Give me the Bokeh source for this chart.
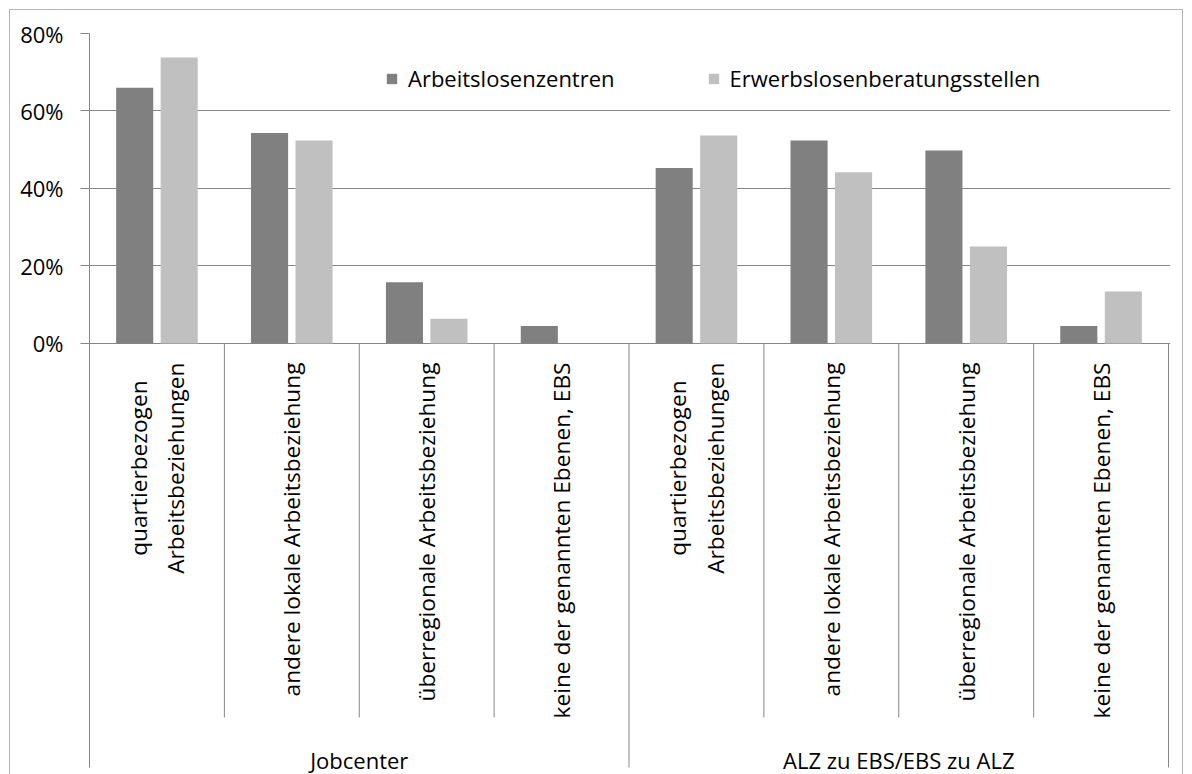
import numpy as np
from bokeh.plotting import figure
from bokeh.models import Range1d, FixedTicker, PrintfTickFormatter, Legend, LegendItem
from bokeh.core.properties import value
from bokeh.embed import file_html
from bokeh.resources import INLINE

# ---------------- data ----------------
groups = ["Jobcenter", "ALZ zu EBS/EBS zu ALZ"]
subcats = ["quartierbezogen\nArbeitsbeziehungen",
           "andere lokale Arbeitsbeziehung",
           "überregionale Arbeitsbeziehung",
           "keine der genannten Ebenen, EBS"]
series_names = ["Arbeitslosenzentren", "Erwerbslosenberatungsstellen"]
alz_values = [66.0, 54.3, 15.8, 4.5, 45.3, 52.4, 49.8, 4.5]
ebs_values = [73.8, 52.4, 6.4, 0.0, 53.7, 44.2, 25.0, 13.4]
y_ticks = [0, 20, 40, 60, 80]

# ---------------- style ----------------
FONT = "Open Sans"
FS = "22px"
DARK = "#808080"
LIGHT = "#c0c0c0"
LINE = "#868686"
BORDER = "#b4b4b4"

n_cat = len(groups) * len(subcats)
Y_MIN = -111.23
MAJOR_LINE_END = -109.4
SUB_LINE_END = -96.5
LABEL_TOP = -4.9
GROUP_Y = -107.4

p = figure(width=1192, height=774, output_backend="svg", toolbar_location=None,
           x_range=Range1d(0, 8.0148), y_range=Range1d(Y_MIN, 80),
           x_axis_location=None,
           min_border_left=89, min_border_right=22, min_border_top=33, min_border_bottom=0)
p.outline_line_color = None
p.xgrid.visible = False
p.background_fill_color = "white"
p.border_fill_color = None
g = f"linear-gradient({BORDER},{BORDER})"
p.styles = {
    "background-color": "white",
    "background-image": f"{g}, {g}, {g}",
    "background-repeat": "no-repeat",
    "background-size": "1px 100%, 1174px 1px, 1px 100%",
    "background-position": "9px 9px, 9px 9px, 1182px 9px",
}

ticker = FixedTicker(ticks=y_ticks)
yax = p.yaxis[0]
yax.ticker = ticker
yax.bounds = (MAJOR_LINE_END, 80)
yax.formatter = PrintfTickFormatter(format="%d%%")
yax.major_label_text_font = FONT
yax.major_label_text_font_size = FS
yax.major_label_text_color = "black"
yax.axis_line_color = LINE
yax.major_tick_line_color = LINE
yax.major_tick_out = 9
yax.major_tick_in = 0
yax.minor_tick_line_color = None
yax.major_label_standoff = 17
p.ygrid.ticker = ticker
p.ygrid.grid_line_color = LINE

centers = np.arange(n_cat) + 0.5
r1 = p.vbar(x=centers - 0.165, top=alz_values, bottom=0, width=0.275,
            fill_color=DARK, line_color=None)
r2 = p.vbar(x=centers + 0.165, top=ebs_values, bottom=0, width=0.275,
            fill_color=LIGHT, line_color=None)

# category separators
bounds = np.arange(n_cat + 1)
ends = [MAJOR_LINE_END if b % len(subcats) == 0 else SUB_LINE_END for b in bounds]
p.segment(x0=bounds, y0=0, x1=bounds, y1=ends, line_color=LINE, line_width=1)

# rotated category labels
p.text(x=centers, y=LABEL_TOP, text=subcats * len(groups), angle=np.pi / 2,
       anchor="center_right", text_align="center", text_baseline="middle",
       text_font=value(FONT), text_font_size="22.7px", text_color="black")

# group labels
gcent = [len(subcats) * (i + 0.5) for i in range(len(groups))]
p.text(x=gcent, y=GROUP_Y, text=groups, text_align="center", text_baseline="alphabetic",
       text_font=value(FONT), text_font_size=FS, text_color="black")

legend = Legend(items=[LegendItem(label=series_names[0], renderers=[r1]),
                       LegendItem(label=series_names[1], renderers=[r2])],
                orientation="horizontal", location=(296, 681),
                glyph_width=13, glyph_height=13, label_standoff=10, spacing=92,
                padding=0, margin=0, border_line_color=None, background_fill_alpha=0,
                label_text_font=FONT, label_text_font_size=FS, label_text_color="black")
p.add_layout(legend)

open("out.html", "w").write(file_html(p, INLINE))
